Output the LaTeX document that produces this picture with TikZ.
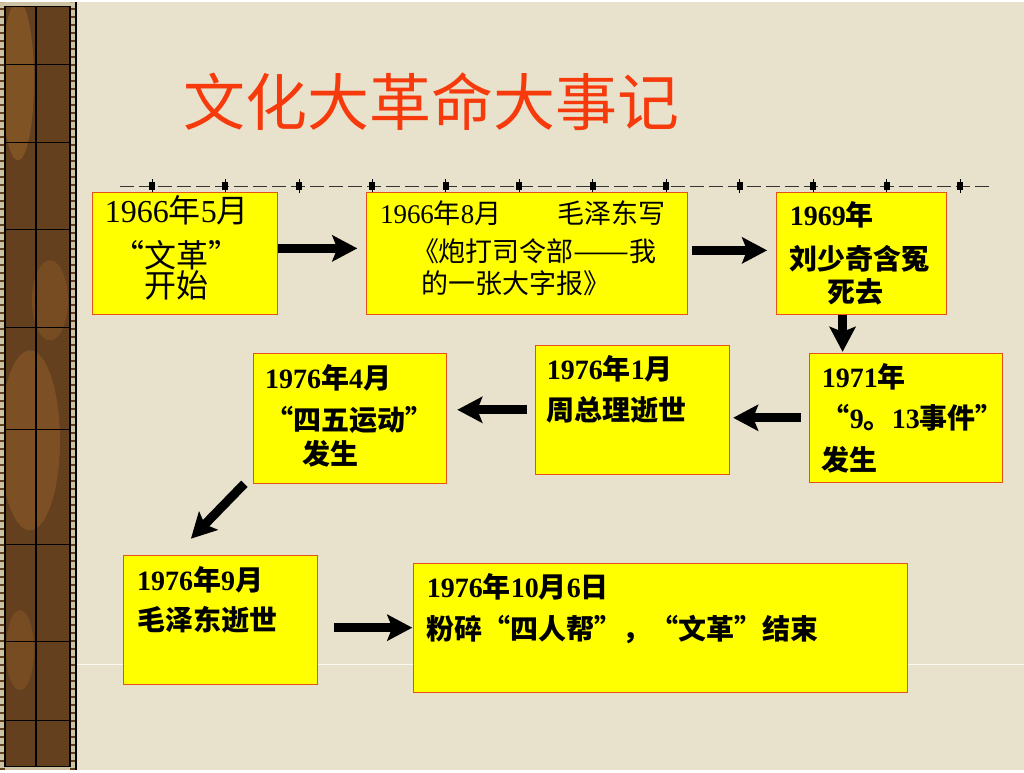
\documentclass[tikz,border=0pt]{standalone}
\usepackage{fontspec}
\setmainfont{Noto Sans CJK SC}
\newfontfamily\latin{Liberation Serif}
\newcommand{\nm}[1]{{\latin #1}}
\usetikzlibrary{arrows.meta}
\definecolor{paper}{HTML}{E8E2CC}
\definecolor{boxyellow}{HTML}{FFFF00}
\definecolor{boxline}{HTML}{E8501A}
\definecolor{titlered}{HTML}{F73A0C}
\definecolor{stripbrown}{HTML}{64401F}
\definecolor{stripochre}{HTML}{94602A}
\definecolor{stripedge}{HTML}{CFC3A5}
\tikzset{
  event/.style={draw=boxline,fill=boxyellow,line width=1bp,inner sep=0pt},
  eventtext/.style={anchor=base west,align=left,inner sep=0pt},
  link/.style={->,line width=9bp},
  gridline/.style={black,line width=1.2bp},
}
\begin{document}
\begin{tikzpicture}[>={Stealth[length=25bp,width=26bp,inset=5bp]},line join=miter]
%% paper and left strip
\fill [paper] (0,0) rectangle (1024bp,768bp);
\fill [stripbrown] (0,0) rectangle (77bp,768bp);
\begin{scope}
  \clip (5bp,4bp) rectangle (70bp,764bp);
  \fill [stripochre,opacity=0.6] (18bp,690bp) ellipse (16bp and 80bp);
  \fill [stripochre,opacity=0.5] (30bp,330bp) ellipse (30bp and 90bp);
  \fill [stripochre,opacity=0.4] (50bp,470bp) ellipse (18bp and 40bp);
  \fill [stripochre,opacity=0.4] (20bp,120bp) ellipse (14bp and 40bp);
\end{scope}
\fill [stripedge] (0,0) rectangle (5bp,768bp);
\fill [stripedge] (70bp,0) rectangle (75bp,768bp);
\fill [stripedge] (0,764bp) rectangle (75bp,768bp);
\fill [stripedge] (0,0) rectangle (75bp,4bp);
\draw [stripbrown,line width=5bp,dash pattern=on 2bp off 6bp] (2.5bp,0) -- (2.5bp,768bp);
\draw [stripbrown,line width=5bp,dash pattern=on 2bp off 6bp] (72.5bp,0) -- (72.5bp,768bp);
\draw [gridline] (5bp,4bp) rectangle (70bp,764bp);
\draw [gridline] (36bp,4bp) -- (36bp,764bp);
\foreach \y in {62,140,227,325,427,542,639,718}
  \draw [gridline] (5bp,{(768-\y)*1bp}) -- (70bp,{(768-\y)*1bp});
\draw [black,line width=2bp] (76bp,0) -- (76bp,768bp);
\draw [white,line width=1bp,opacity=0.8] (77bp,106bp) -- (1024bp,106bp);
%% title and rule
\node (title) at (432bp,669bp) [text=titlered,font=\fontsize{62bp}{70bp}\selectfont] {文化大革命大事记};
\draw [black!80,line width=1.5bp,dash pattern=on 14bp off 5bp] (120bp,584bp) -- (990bp,584bp);
\foreach \i in {0,...,11} {
  \draw [black,line width=0.6bp] ({(152+73.5*\i)*1bp},577bp) -- +(0,14bp);
  \fill [black] ({(149+73.5*\i)*1bp},580bp) rectangle +(6bp,8bp);
}
%% boxes
\node (box_a) at (185.5bp,517bp) [event,minimum width=185bp,minimum height=122bp] {};
\node (box_b) at (527.5bp,517bp) [event,minimum width=321bp,minimum height=122bp] {};
\node (box_c) at (862bp,517bp) [event,minimum width=170bp,minimum height=122bp] {};
\node (box_d) at (906.5bp,352.5bp) [event,minimum width=193bp,minimum height=129bp] {};
\node (box_e) at (633bp,360.5bp) [event,minimum width=194bp,minimum height=129bp] {};
\node (box_f) at (350.5bp,352bp) [event,minimum width=193bp,minimum height=130bp] {};
\node (box_g) at (221bp,150.5bp) [event,minimum width=194bp,minimum height=129bp] {};
\node (box_h) at (661bp,142.5bp) [event,minimum width=494bp,minimum height=129bp] {};
%% texts (base = last line)
\node (text_a) at (177bp,473bp) [anchor=base,align=center,inner sep=0pt,font=\fontsize{32bp}{30bp}\selectfont] {\nm{1966}年\nm{5}月\\[15bp]“文革”\\开始};
\node (text_b) at (380bp,477bp) [eventtext,font=\fontsize{27bp}{32bp}\selectfont] {\nm{1966}年\nm{8}月\hspace{56bp}毛泽东写\\[6bp]\hspace*{32bp}《炮打司令部\resizebox{56bp}{\height}{——}我\\ \hspace*{42bp}的一张大字报》};
\node (text_c) at (790bp,468bp) [eventtext,font=\bfseries\fontsize{28bp}{33bp}\selectfont] {\nm{1969}年\\[11bp]刘少奇含冤\\ \hspace*{38bp}死去};
\node (text_d) at (822bp,300bp) [eventtext,font=\bfseries\fontsize{28bp}{41.5bp}\selectfont] {\nm{1971}年\\“\nm{9}。\nm{13}事件”\\发生};
\node (text_e) at (547bp,350bp) [eventtext,font=\bfseries\fontsize{28bp}{41bp}\selectfont] {\nm{1976}年\nm{1}月\\周总理逝世};
\node (text_f) at (265bp,306bp) [eventtext,font=\bfseries\fontsize{28bp}{34bp}\selectfont] {\nm{1976}年\nm{4}月\\[8bp]“四五运动”\\ \hspace*{37bp}发生};
\node (text_g) at (137bp,140bp) [eventtext,font=\bfseries\fontsize{28bp}{40bp}\selectfont] {\nm{1976}年\nm{9}月\\毛泽东逝世};
\node (text_h) at (427bp,131bp) [eventtext,font=\bfseries\fontsize{28bp}{42bp}\selectfont] {\nm{1976}年\nm{10}月\nm{6}日\\粉碎“四人帮”，“文革”结束};
%% arrows
\draw [link,shorten >=9bp] ([yshift=5bp]box_a.east) -- ([yshift=5bp]box_b.west);
\draw [link,shorten <=4bp,shorten >=9bp] ([yshift=3bp]box_b.east) -- ([yshift=3bp]box_c.west);
\draw [link,shorten >=1bp] ([xshift=-19bp]box_c.south) -- ([xshift=-19bp]box_c.south |- box_d.north);
\draw [link,shorten <=8bp,shorten >=3bp] (box_d.west) -- (box_d.west -| box_e.east);
\draw [link,shorten <=8bp,shorten >=10bp] (box_e.west) -- (box_e.west -| box_f.east);
\draw [link] ([xshift=-9bp]box_f.south west) -- ([shift={(-30bp,16bp)}]box_g.north);
\draw [link,shorten <=16bp,shorten >=1bp] (box_h.west -| box_g.east) -- (box_h.west);
%
\end{tikzpicture}
\end{document}
